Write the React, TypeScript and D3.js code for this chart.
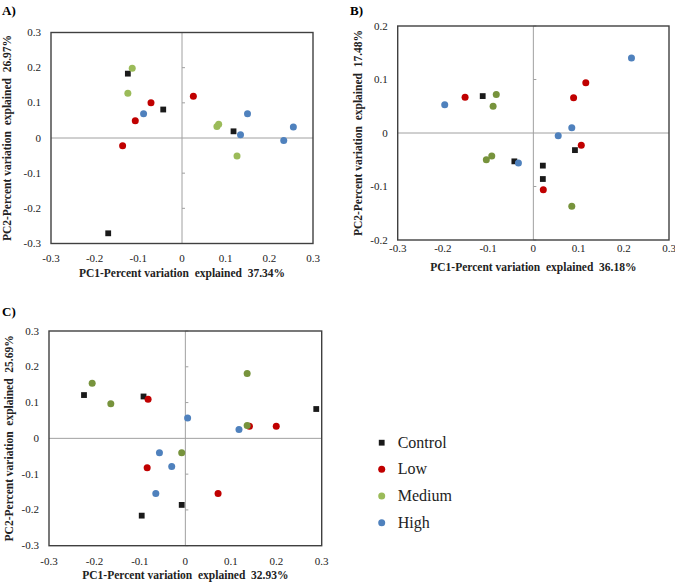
import React from "react";
import * as d3 from "d3";

type Pt = [number, number];

const groups = ["Control", "Low", "Medium", "High"];

// Panel A
const aControl: Pt[] = [[-0.124, 0.183], [-0.043, 0.081], [0.118, 0.019], [-0.169, -0.271]];
const aLow: Pt[] = [[-0.071, 0.1], [-0.107, 0.049], [-0.136, -0.022], [0.026, 0.119]];
const aMedium: Pt[] = [[-0.114, 0.198], [-0.124, 0.127], [0.08, 0.033], [0.084, 0.039], [0.126, -0.051]];
const aHigh: Pt[] = [[-0.088, 0.069], [0.15, 0.069], [0.134, 0.009], [0.233, -0.007], [0.255, 0.031]];

// Panel B
const bControl: Pt[] = [[-0.112, 0.069], [-0.042, -0.053], [0.021, -0.061], [0.021, -0.086], [0.092, -0.032]];
const bLow: Pt[] = [[-0.151, 0.067], [0.116, 0.094], [0.089, 0.066], [0.106, -0.023], [0.022, -0.106]];
const bMedium: Pt[] = [[-0.082, 0.072], [-0.089, 0.05], [-0.104, -0.05], [-0.092, -0.043], [0.085, -0.137]];
const bHigh: Pt[] = [[-0.196, 0.053], [0.217, 0.14], [0.085, 0.01], [0.055, -0.005], [-0.033, -0.056]];

// Panel C
const cControl: Pt[] = [[-0.223, 0.121], [-0.092, 0.117], [0.288, 0.082], [-0.008, -0.186], [-0.096, -0.216]];
const cLow: Pt[] = [[-0.082, 0.109], [0.141, 0.034], [0.2, 0.034], [-0.084, -0.082], [0.072, -0.154]];
const cMedium: Pt[] = [[-0.205, 0.154], [-0.164, 0.097], [0.136, 0.181], [0.136, 0.036], [-0.008, -0.04]];
const cHigh: Pt[] = [[0.005, 0.057], [0.118, 0.025], [-0.057, -0.04], [-0.03, -0.079], [-0.065, -0.154]];

const xTicks = [-0.3, -0.2, -0.1, 0, 0.1, 0.2, 0.3];
const yTicks3 = [-0.3, -0.2, -0.1, 0, 0.1, 0.2, 0.3];
const yTicks2 = [-0.2, -0.1, 0, 0.1, 0.2];

const colors: Record<string, string> = {
  Control: "#1a1a1a",
  Low: "#c00000",
  Medium: "#9bbb59",
  High: "#4f81bd",
};
const olive = "#77933c";

const FONT = "Liberation Serif";
const SP = "\u00a0";

const fmt = (v: number) => {
  if (Math.abs(v) < 1e-9) return "0";
  return String(+v.toFixed(1));
};

interface PanelProps {
  label: string;
  labelX: number;
  labelY: number;
  x0: number;
  x1: number;
  y0: number;
  y1: number;
  yDomain: [number, number];
  yTicks: number[];
  xTitle: string;
  yTitle: string;
  yTitleX: number;
  xTickY: number;
  xTitleY: number;
  series: Pt[][];
  mediumColor: string;
}

function Panel(p: PanelProps) {
  const xs = d3.scaleLinear().domain([-0.3, 0.3]).range([p.x0, p.x1]);
  const ys = d3.scaleLinear().domain(p.yDomain).range([p.y1, p.y0]);
  const zx = xs(0);
  const zy = ys(0);
  const cols = [colors.Control, colors.Low, p.mediumColor, colors.High];
  return (
    <g>
      <text x={p.labelX} y={p.labelY} fontFamily={FONT} fontWeight="bold" fontSize={13}>
        {p.label}
      </text>
      <line x1={zx} x2={zx} y1={p.y0} y2={p.y1} stroke="#a0a0a0" strokeWidth={1} />
      <line x1={p.x0} x2={p.x1} y1={zy} y2={zy} stroke="#a0a0a0" strokeWidth={1} />
      {p.yTicks.filter((t) => t !== 0).map((t) => (
        <line key={"yt" + t} x1={zx} x2={zx + 3} y1={ys(t)} y2={ys(t)} stroke="#a0a0a0" strokeWidth={1} />
      ))}
      <rect x={p.x0} y={p.y0} width={p.x1 - p.x0} height={p.y1 - p.y0} fill="none" stroke="#404040" strokeWidth={1.4} />
      {xTicks.map((t) => (
        <text key={"xl" + t} x={xs(t)} y={p.xTickY} textAnchor="middle" fontFamily={FONT} fontSize={11} fill="#222">
          {fmt(t)}
        </text>
      ))}
      {p.yTicks.map((t) => (
        <text key={"yl" + t} x={p.x0 - 10} y={ys(t) + 3.5} textAnchor="end" fontFamily={FONT} fontSize={11} fill="#222">
          {fmt(t)}
        </text>
      ))}
      <text x={(p.x0 + p.x1) / 2} y={p.xTitleY} textAnchor="middle" fontFamily={FONT} fontWeight="bold" fontSize={11.5} fill="#222">
        {p.xTitle.replace(/ /g, SP)}
      </text>
      <text
        transform={`translate(${p.yTitleX},${(p.y0 + p.y1) / 2}) rotate(-90)`}
        textAnchor="middle"
        fontFamily={FONT}
        fontWeight="bold"
        fontSize={11.5}
        fill="#222"
      >
        {p.yTitle.replace(/ /g, SP)}
      </text>
      {p.series.map((s, i) =>
        s.map((d, j) =>
          i === 0 ? (
            <rect key={`s${i}-${j}`} x={xs(d[0]) - 2.9} y={ys(d[1]) - 2.9} width={5.8} height={5.8} fill={cols[i]} />
          ) : (
            <circle key={`s${i}-${j}`} cx={xs(d[0])} cy={ys(d[1])} r={3.5} fill={cols[i]} />
          )
        )
      )}
    </g>
  );
}

export default function App() {
  const legendY = [442.7, 469.3, 496, 522.7];
  return (
    <svg width={675} height={584} style={{ position: "absolute", left: 0, top: 0, background: "#fff" }}>
      <Panel
        label="A)" labelX={2} labelY={15}
        x0={51} x1={313} y0={32.5} y1={243.5}
        yDomain={[-0.3, 0.3]} yTicks={yTicks3}
        xTitle="PC1-Percent variation  explained  37.34%"
        yTitle="PC2-Percent variation  explained  26.97%"
        yTitleX={11} xTickY={262} xTitleY={277}
        series={[aControl, aLow, aMedium, aHigh]}
        mediumColor={colors.Medium}
      />
      <Panel
        label="B)" labelX={350} labelY={15}
        x0={397.7} x1={669} y0={26} y1={240}
        yDomain={[-0.2, 0.2]} yTicks={yTicks2}
        xTitle="PC1-Percent variation  explained  36.18%"
        yTitle="PC2-Percent variation  explained  17.48%"
        yTitleX={362} xTickY={252} xTitleY={271}
        series={[bControl, bLow, bMedium, bHigh]}
        mediumColor={olive}
      />
      <Panel
        label="C)" labelX={2} labelY={316}
        x0={49} x1={321.7} y0={331} y1={545.7}
        yDomain={[-0.3, 0.3]} yTicks={yTicks3}
        xTitle="PC1-Percent variation  explained  32.93%"
        yTitle="PC2-Percent variation  explained  25.69%"
        yTitleX={13} xTickY={565} xTitleY={579}
        series={[cControl, cLow, cMedium, cHigh]}
        mediumColor={olive}
      />
      {groups.map((g, i) => (
        <g key={g}>
          {i === 0 ? (
            <rect x={381.7 - 2.9} y={legendY[i] - 2.9} width={5.8} height={5.8} fill={colors[g]} />
          ) : (
            <circle cx={381.7} cy={legendY[i]} r={3.5} fill={colors[g]} />
          )}
          <text x={397.7} y={legendY[i] + 5} fontFamily={FONT} fontSize={16} fill="#222">
            {g}
          </text>
        </g>
      ))}
    </svg>
  );
}
